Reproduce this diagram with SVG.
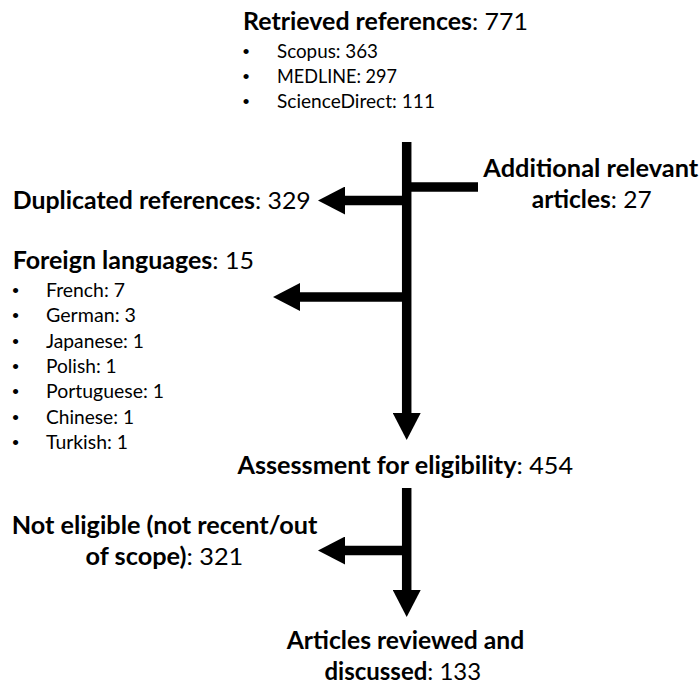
<svg xmlns="http://www.w3.org/2000/svg" width="700" height="687" viewBox="0 0 700 687">
<style>
  text { font-family: Lato, "Liberation Sans", "DejaVu Sans", sans-serif; fill: #000; }
  .h { font-size: 24px; }
  .li { font-size: 19px; }
  .bu { font-family: "Liberation Sans", "DejaVu Sans", sans-serif; font-size: 19px; text-anchor: middle; }
  .b { font-weight: bold; }
  .conn { stroke: #000; stroke-width: 9.5; fill: none; stroke-linecap: butt; }
</style>
<defs>
  <marker id="ah" markerUnits="userSpaceOnUse" markerWidth="27" markerHeight="28" viewBox="0 0 27 28" refX="1" refY="14" orient="auto">
    <path d="M0,0 L27,14 L0,28 z" fill="#000"/>
  </marker>
</defs>
<rect width="700" height="687" fill="#fff"/>

<g id="connectors">
  <line class="conn" x1="406.7" y1="142" x2="406.7" y2="414" marker-end="url(#ah)"/>
  <line class="conn" x1="478" y1="187" x2="406.7" y2="187"/>
  <line class="conn" x1="406.7" y1="200.5" x2="344" y2="200.5" marker-end="url(#ah)"/>
  <line class="conn" x1="406.7" y1="297" x2="299" y2="297" marker-end="url(#ah)"/>
  <line class="conn" x1="406.7" y1="488" x2="406.7" y2="591" marker-end="url(#ah)"/>
  <line class="conn" x1="406.7" y1="550.5" x2="344" y2="550.5" marker-end="url(#ah)"/>
</g>

<g id="retrieved">
  <text class="h" x="243" y="30" textLength="285" lengthAdjust="spacingAndGlyphs"><tspan class="b">Retrieved references</tspan>: 771</text>
  <text class="bu" x="246" y="58">•</text>
  <text class="li" x="277" y="58" textLength="101" lengthAdjust="spacingAndGlyphs">Scopus: 363</text>
  <text class="bu" x="246" y="83">•</text>
  <text class="li" x="277" y="83" textLength="120" lengthAdjust="spacingAndGlyphs">MEDLINE: 297</text>
  <text class="bu" x="246" y="108">•</text>
  <text class="li" x="277" y="108" textLength="158" lengthAdjust="spacingAndGlyphs">ScienceDirect: 111</text>
</g>

<g id="additional">
  <text class="h b" x="483.3" y="176.5" textLength="215" lengthAdjust="spacingAndGlyphs">Additional relevant</text>
  <text class="h" x="531.7" y="208" textLength="120" lengthAdjust="spacingAndGlyphs"><tspan class="b">articles</tspan>: 27</text>
</g>

<g id="duplicated">
  <text class="h" x="12.7" y="209" textLength="298" lengthAdjust="spacingAndGlyphs"><tspan class="b">Duplicated references</tspan>: 329</text>
</g>

<g id="foreign">
  <text class="h" x="12.7" y="269" textLength="241.3" lengthAdjust="spacingAndGlyphs"><tspan class="b">Foreign languages</tspan>: 15</text>
  <text class="bu" x="15.5" y="297">•</text>
  <text class="li" x="46" y="297" textLength="79" lengthAdjust="spacingAndGlyphs">French: 7</text>
  <text class="bu" x="15.5" y="322.3">•</text>
  <text class="li" x="46" y="322.3" textLength="90" lengthAdjust="spacingAndGlyphs">German: 3</text>
  <text class="bu" x="15.5" y="347.6">•</text>
  <text class="li" x="46" y="347.6" textLength="98" lengthAdjust="spacingAndGlyphs">Japanese: 1</text>
  <text class="bu" x="15.5" y="372.9">•</text>
  <text class="li" x="46" y="372.9" textLength="70.7" lengthAdjust="spacingAndGlyphs">Polish: 1</text>
  <text class="bu" x="15.5" y="398.2">•</text>
  <text class="li" x="46" y="398.2" textLength="118" lengthAdjust="spacingAndGlyphs">Portuguese: 1</text>
  <text class="bu" x="15.5" y="423.5">•</text>
  <text class="li" x="46" y="423.5" textLength="88" lengthAdjust="spacingAndGlyphs">Chinese: 1</text>
  <text class="bu" x="15.5" y="448.8">•</text>
  <text class="li" x="46" y="448.8" textLength="82" lengthAdjust="spacingAndGlyphs">Turkish: 1</text>
</g>

<g id="assessment">
  <text class="h" x="237.5" y="473.5" textLength="335.5" lengthAdjust="spacingAndGlyphs"><tspan class="b">Assessment for eligibility</tspan>: 454</text>
</g>

<g id="not-eligible">
  <text class="h b" x="11.7" y="534" textLength="305.6" lengthAdjust="spacingAndGlyphs">Not eligible (not recent/out</text>
  <text class="h" x="85.6" y="565" textLength="157.7" lengthAdjust="spacingAndGlyphs"><tspan class="b">of scope)</tspan>: 321</text>
</g>

<g id="reviewed">
  <text class="h b" x="286.7" y="649" textLength="237.6" lengthAdjust="spacingAndGlyphs">Articles reviewed and</text>
  <text class="h" x="324.5" y="680" textLength="156.7" lengthAdjust="spacingAndGlyphs"><tspan class="b">discussed</tspan>: 133</text>
</g>
</svg>
